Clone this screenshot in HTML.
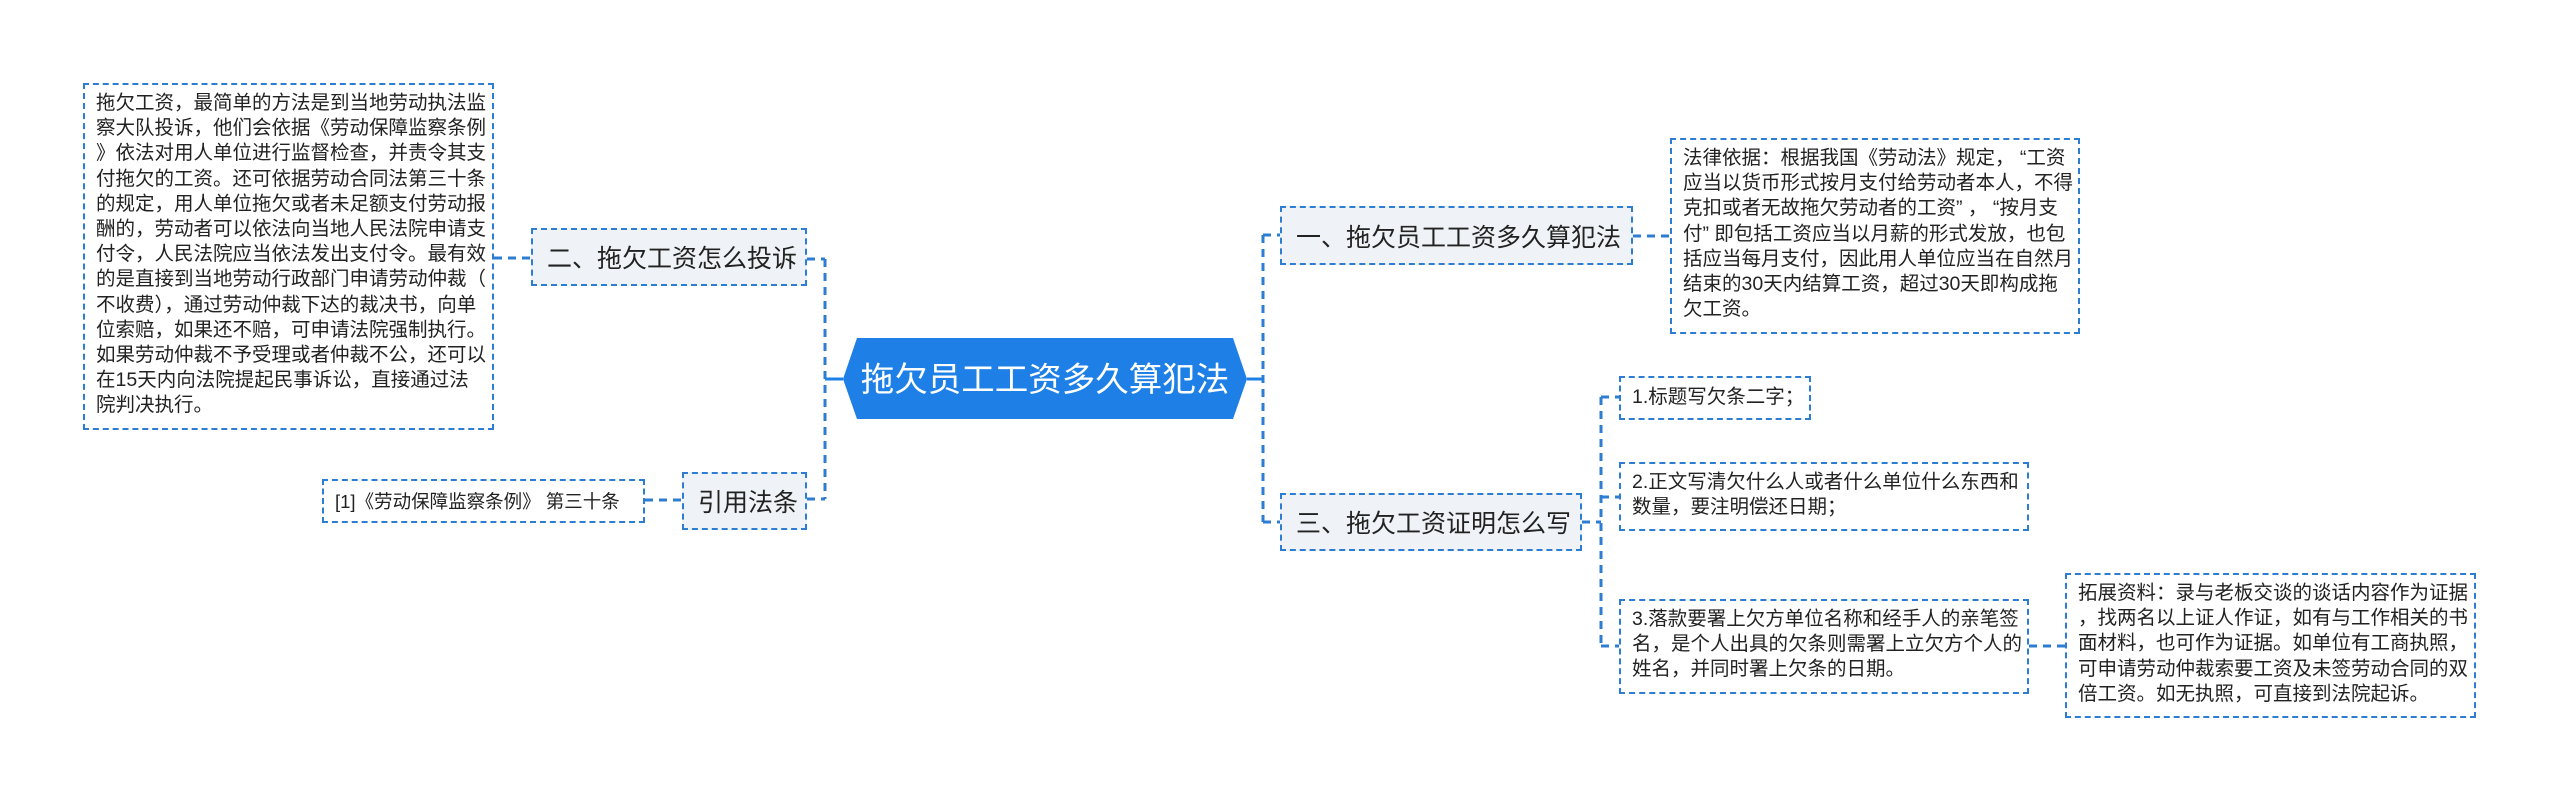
<!DOCTYPE html>
<html><head><meta charset="utf-8"><style>
html,body{margin:0;padding:0;background:#fff;}
body{width:2560px;height:803px;position:relative;overflow:hidden;font-family:"Liberation Sans","Noto Sans CJK SC",sans-serif;}
.b{position:absolute;box-sizing:border-box;border:2px dashed #2d7dd2;color:#222;}
.leaf{background:#fff;font-size:19.5px;line-height:25.2px;padding:6px 6px 0 11px;white-space:nowrap;}
.l1{background:#eff2f6;font-size:25px;display:flex;align-items:center;padding-left:14px;color:#222;white-space:nowrap;}
</style></head><body>
<svg width="2560" height="803" style="position:absolute;left:0;top:0">
<g stroke="#2d7dd2" stroke-width="3" stroke-dasharray="8,6" fill="none">
<path d="M825 259 V499"/>
<path d="M807 259 H825 M807 499 H825"/>
<path d="M494 258 H531 M645 500 H682"/>
<path d="M1263 235 V522"/>
<path d="M1263 235 H1280 M1263 522 H1280"/>
<path d="M1633 236 H1670"/>
<path d="M1601 397 V646"/>
<path d="M1582 522 H1601 M1601 397 H1619 M1601 497 H1619 M1601 646 H1619"/>
<path d="M2029 646 H2065"/>
</g>
<g stroke="#1e80e6" stroke-width="3"><path d="M825 379 H843 M1247 379 H1263"/></g>
<polygon points="857,338 1233,338 1247,379 1233,419 857,419 843,379" fill="#1e80e6"/>
<text x="1045" y="391" font-size="33.5" fill="#fff" text-anchor="middle" font-family="Liberation Sans, Noto Sans CJK SC, sans-serif">拖欠员工工资多久算犯法</text>
</svg>
<div class="b leaf" style="left:83px;top:83px;width:411px;height:347px;">拖欠工资，最简单的方法是到当地劳动执法监<br>察大队投诉，他们会依据《劳动保障监察条例<br>》依法对用人单位进行监督检查，并责令其支<br>付拖欠的工资。还可依据劳动合同法第三十条<br>的规定，用人单位拖欠或者未足额支付劳动报<br>酬的，劳动者可以依法向当地人民法院申请支<br>付令，人民法院应当依法发出支付令。最有效<br>的是直接到当地劳动行政部门申请劳动仲裁（<br>不收费），通过劳动仲裁下达的裁决书，向单<br>位索赔，如果还不赔，可申请法院强制执行。<br>如果劳动仲裁不予受理或者仲裁不公，还可以<br>在15天内向法院提起民事诉讼，直接通过法<br>院判决执行。</div>
<div class="b l1" style="left:531px;top:228px;width:276px;height:58px;">二、拖欠工资怎么投诉</div>
<div class="b l1" style="left:682px;top:472px;width:125px;height:58px;">引用法条</div>
<div class="b leaf" style="left:322px;top:479px;width:323px;height:44px;font-size:18.5px;padding-top:8px;">[1]《劳动保障监察条例》 第三十条</div>
<div class="b l1" style="left:1280px;top:206px;width:353px;height:59px;">一、拖欠员工工资多久算犯法</div>
<div class="b leaf" style="left:1670px;top:138px;width:410px;height:196px;">法律依据：根据我国《劳动法》规定， “工资<br>应当以货币形式按月支付给劳动者本人，不得<br>克扣或者无故拖欠劳动者的工资” ， “按月支<br>付” 即包括工资应当以月薪的形式发放，也包<br>括应当每月支付，因此用人单位应当在自然月<br>结束的30天内结算工资，超过30天即构成拖<br>欠工资。</div>
<div class="b l1" style="left:1280px;top:493px;width:302px;height:58px;">三、拖欠工资证明怎么写</div>
<div class="b leaf" style="left:1619px;top:376px;width:192px;height:44px;padding-top:7px;">1.标题写欠条二字；</div>
<div class="b leaf" style="left:1619px;top:462px;width:410px;height:69px;">2.正文写清欠什么人或者什么单位什么东西和<br>数量，要注明偿还日期；</div>
<div class="b leaf" style="left:1619px;top:599px;width:410px;height:95px;">3.落款要署上欠方单位名称和经手人的亲笔签<br>名，是个人出具的欠条则需署上立欠方个人的<br>姓名，并同时署上欠条的日期。</div>
<div class="b leaf" style="left:2065px;top:573px;width:411px;height:145px;">拓展资料：录与老板交谈的谈话内容作为证据<br>，找两名以上证人作证，如有与工作相关的书<br>面材料，也可作为证据。如单位有工商执照，<br>可申请劳动仲裁索要工资及未签劳动合同的双<br>倍工资。如无执照，可直接到法院起诉。</div>
</body></html>
